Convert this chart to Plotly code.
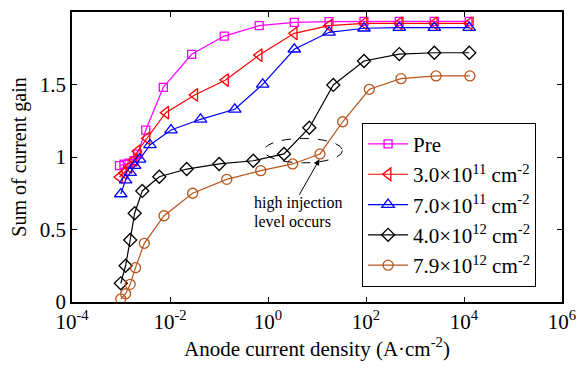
import plotly.graph_objects as go

# ---------------- data ----------------
pre_x = [9.3e-4, 1.15e-3, 1.46e-3, 1.84e-3, 2.17e-3, 3.2e-3, 7.3e-3, 0.0277, 0.128, 0.66, 3.44, 17.6, 91, 478, 2480, 12800]
pre_y = [0.94, 0.95, 0.957, 0.974, 1.02, 1.186, 1.48, 1.708, 1.834, 1.906, 1.929, 1.933, 1.936, 1.936, 1.936, 1.936]

d30_x = [9.3e-4, 1.15e-3, 1.46e-3, 1.84e-3, 2.17e-3, 3.4e-3, 8.2e-3, 0.032, 0.136, 0.66, 3.44, 17.6, 91, 478, 2480, 12800]
d30_y = [0.862, 0.89, 0.93, 0.98, 1.04, 1.129, 1.306, 1.428, 1.531, 1.703, 1.853, 1.906, 1.922, 1.922, 1.922, 1.922]

d70_x = [9.9e-4, 1.24e-3, 1.54e-3, 1.9e-3, 2.4e-3, 3.9e-3, 0.0105, 0.042, 0.21, 0.78, 3.44, 17.6, 91, 478, 2480, 12800]
d70_y = [0.745, 0.841, 0.892, 0.94, 0.984, 1.083, 1.186, 1.26, 1.329, 1.501, 1.743, 1.86, 1.888, 1.892, 1.892, 1.892]

d40_x = [9.9e-4, 1.24e-3, 1.54e-3, 1.9e-3, 2.72e-3, 6.05e-3, 0.0219, 0.101, 0.50, 2.12, 6.97, 21.5, 91, 478, 2480, 12800]
d40_y = [0.129, 0.25, 0.428, 0.612, 0.766, 0.864, 0.917, 0.952, 0.974, 1.021, 1.202, 1.497, 1.662, 1.71, 1.719, 1.719]

d79_x = [9.9e-4, 1.24e-3, 1.54e-3, 1.98e-3, 2.99e-3, 7.55e-3, 0.029, 0.144, 0.71, 3.19, 11.5, 33.4, 117, 518, 2690, 13200]
d79_y = [0.021, 0.057, 0.122, 0.237, 0.405, 0.595, 0.75, 0.846, 0.906, 0.952, 1.021, 1.243, 1.467, 1.54, 1.559, 1.559]

series_names = ["Pre",
                "3.0×10<sup>11</sup> cm<sup>-2</sup>",
                "7.0×10<sup>11</sup> cm<sup>-2</sup>",
                "4.0×10<sup>12</sup> cm<sup>-2</sup>",
                "7.9×10<sup>12</sup> cm<sup>-2</sup>"]

x_tickvals = [1e-4, 1e-2, 1e0, 1e2, 1e4, 1e6]
x_ticktext = ["10<sup>-4</sup>", "10<sup>-2</sup>", "10<sup>0</sup>", "10<sup>2</sup>", "10<sup>4</sup>", "10<sup>6</sup>"]
y_tickvals = [0, 0.5, 1, 1.5, 2]
y_ticktext = ["0", "0.5", "1", "1.5", "2"]

# ---------------- styling ----------------
FONT = "Liberation Serif"
colors = ["#ff00ff", "#ff0000", "#0000ff", "#000000", "#b8561e"]
symbols = ["square-open", "triangle-left-open", "triangle-up-open", "diamond-open", "circle-open"]
sizes = [8, 11, 11, 10, 10]

fig = go.Figure()
for xs, ys, name, c, s, sz in zip([pre_x, d30_x, d70_x, d40_x, d79_x],
                                  [pre_y, d30_y, d70_y, d40_y, d79_y],
                                  series_names, colors, symbols, sizes):
    fig.add_trace(go.Scatter(
        x=xs, y=ys, name=name, mode="lines+markers",
        line=dict(color=c, width=1.2),
        marker=dict(symbol=s, size=sz, color=c, line=dict(color=c, width=1.3)),
    ))

axis_common = dict(showline=True, linecolor="black", linewidth=1.5, mirror="ticks",
                   ticks="inside", ticklen=5, tickcolor="black", tickwidth=1,
                   showgrid=False, zeroline=False, automargin=False,
                   tickfont=dict(family=FONT, size=21, color="black"))

fig.update_xaxes(type="log", range=[-4, 6], tickvals=x_tickvals, ticktext=x_ticktext,
                 title=dict(text="Anode current density (A·cm<sup>-2</sup>)",
                            font=dict(family=FONT, size=21, color="black"), standoff=7),
                 **axis_common)
fig.update_yaxes(range=[0, 2], tickvals=y_tickvals, ticktext=y_ticktext,
                 title=dict(text="Sum of current gain",
                            font=dict(family=FONT, size=20, color="black"), standoff=13),
                 **axis_common)

# page body has an 8px margin, so the figure is made 8px smaller and shifted
fig.update_layout(
    width=580, height=362,
    margin=dict(l=64, r=26, t=4, b=68),
    paper_bgcolor="white", plot_bgcolor="white",
    font=dict(family=FONT, color="black"),
    legend=dict(x=0.592, y=0.618, xanchor="left", yanchor="top",
                bgcolor="white", bordercolor="black", borderwidth=1,
                font=dict(family=FONT, size=21, color="black"),
                itemwidth=40, tracegroupgap=0),
    showlegend=True,
)

# dashed ellipse marking the high-injection region
fig.add_shape(type="circle", xref="paper", yref="paper",
              x0=0.392, x1=0.552, y0=0.480, y1=0.564,
              line=dict(color="black", width=1, dash="dash"))

# arrow
fig.add_annotation(xref="paper", yref="paper", x=0.505, y=0.492,
                   text="", showarrow=True, ax=-21, ay=37,
                   arrowhead=2, arrowsize=1.2, arrowwidth=1, arrowcolor="black")
# text (two lines, tight leading as in the reference)
fig.add_annotation(xref="paper", yref="paper", x=0.367, y=0.341,
                   xanchor="left", yanchor="middle", align="left",
                   text="high injection", showarrow=False,
                   font=dict(family=FONT, size=16, color="black"))
fig.add_annotation(xref="paper", yref="paper", x=0.367, y=0.279,
                   xanchor="left", yanchor="middle", align="left",
                   text="level occurs", showarrow=False,
                   font=dict(family=FONT, size=16, color="black"))

fig.write_html("out.html")
